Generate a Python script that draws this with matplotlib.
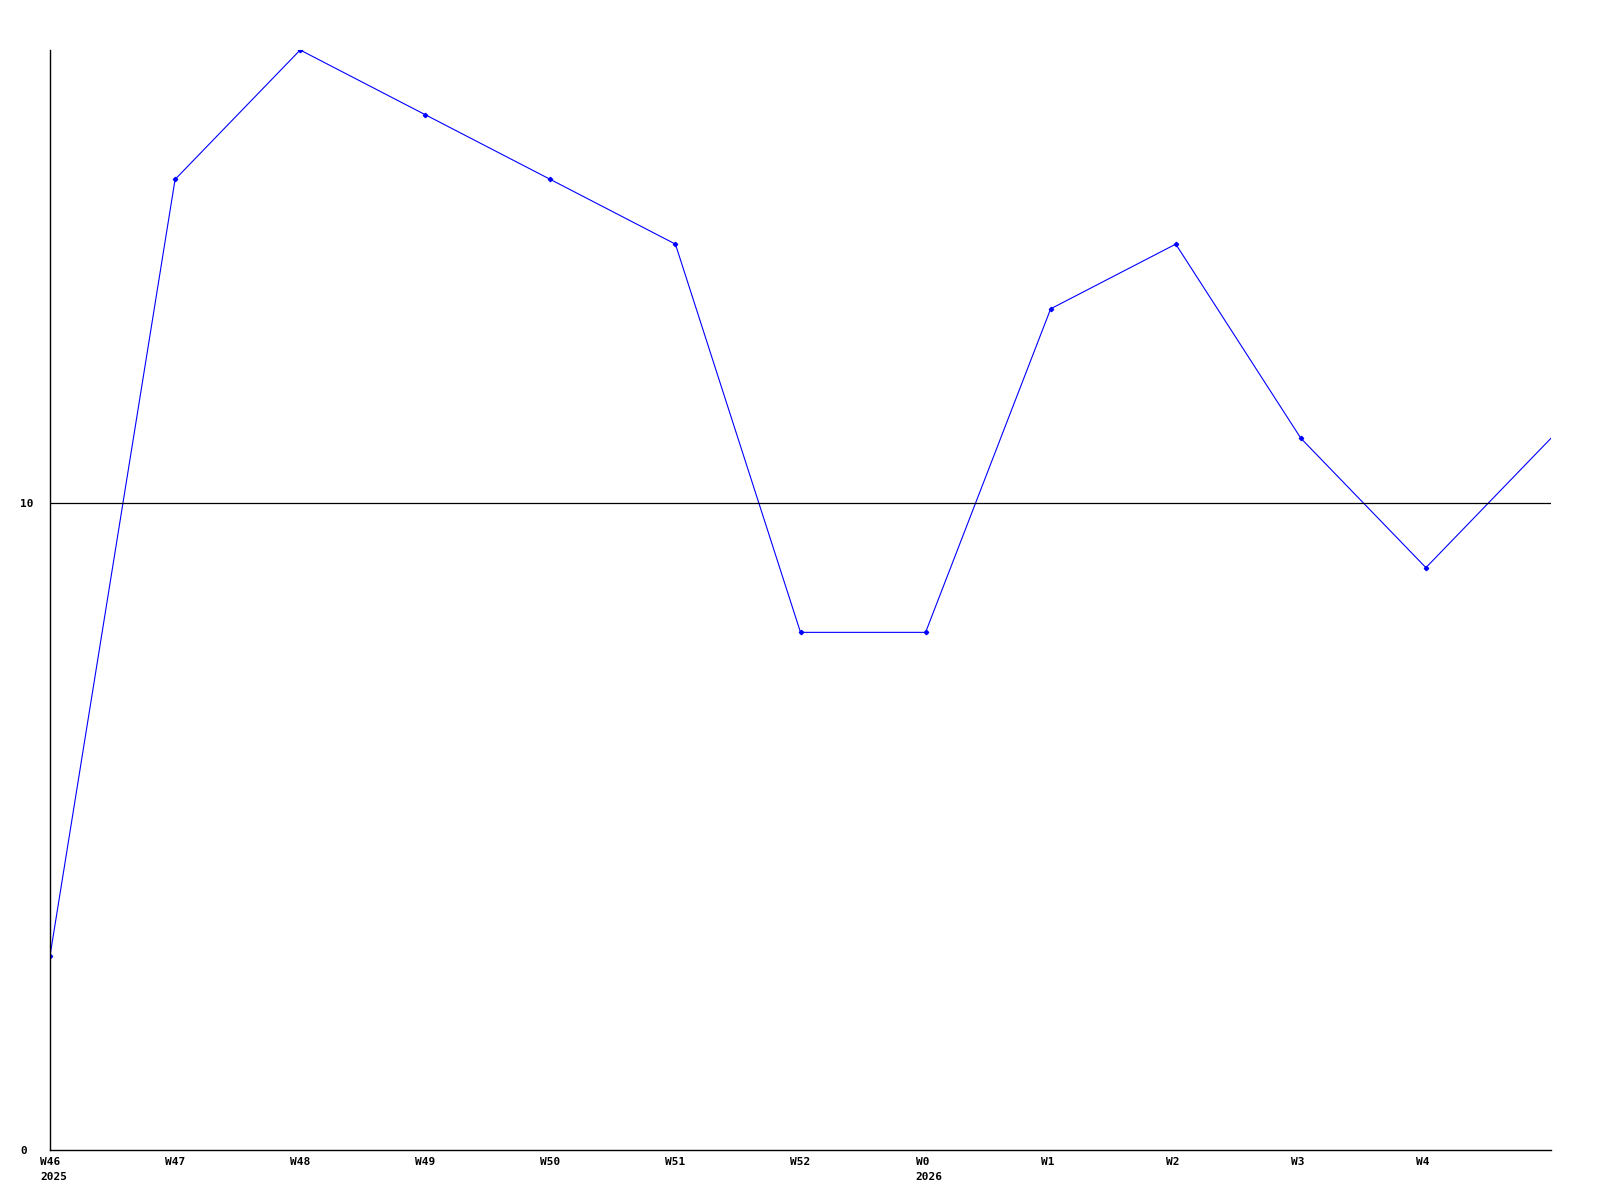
import matplotlib
matplotlib.use("Agg")
import matplotlib.pyplot as plt

# weekly values, the last point has no label
weeks = ["W46", "W47", "W48", "W49", "W50", "W51", "W52", "W0", "W1", "W2", "W3", "W4", ""]
years = ["2025", "", "", "", "", "", "", "2026", "", "", "", "", ""]
values = [3, 15, 17, 16, 15, 14, 8, 8, 13, 14, 11, 9, 11]

yticks = [0, 10]

font = dict(family="DejaVu Sans Mono", weight="bold", size=8)

fig = plt.figure(figsize=(16, 12), dpi=100)
ax = fig.add_axes([50 / 1600, 1 - 1150 / 1200, 1501 / 1600, 1100 / 1200])

xs = list(range(len(values)))
ax.plot(xs, values, color="blue", linewidth=0.8, marker="D", markersize=2.2,
        markevery=list(range(len(values) - 1)))

ax.set_xlim(0, len(values) - 1)
ax.set_ylim(0, 17)

# reference line at 10
ax.axhline(10, color="black", linewidth=0.9)

for s in ["top", "right"]:
    ax.spines[s].set_visible(False)
for s in ["left", "bottom"]:
    ax.spines[s].set_linewidth(1.0)

ax.set_xticks([])
ax.set_yticks([])

for x, w, yr in zip(xs, weeks, years):
    if w:
        ax.annotate(w, (x, 0), xytext=(-10, -12), textcoords="offset pixels",
                    ha="left", va="center", **font)
    if yr:
        ax.annotate(yr, (x, 0), xytext=(-10, -27), textcoords="offset pixels",
                    ha="left", va="center", **font)

for y in yticks:
    ax.annotate(str(y), (0, y), xytext=(-30, -1), textcoords="offset pixels",
                ha="left", va="center", **font)

fig.savefig("out.png", dpi=100, facecolor="white")
